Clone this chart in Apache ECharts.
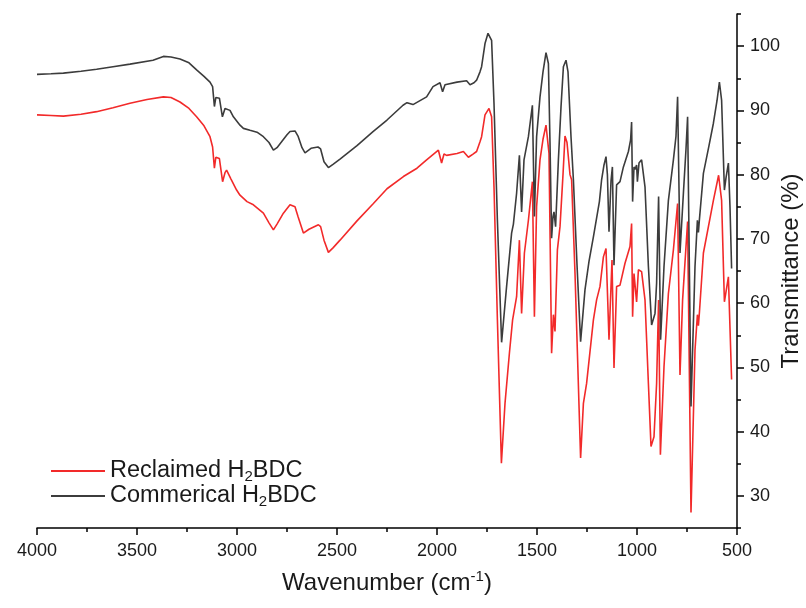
<!DOCTYPE html>
<html>
<head>
<meta charset="utf-8">
<script src="https://cdn.jsdelivr.net/npm/echarts@6/dist/echarts.min.js"></script>
<style>html,body{margin:0;padding:0;background:#fff}#c{width:806px;height:608px}</style>
</head>
<body>
<div id="c"></div>
<script>
// Commerical H2BDC (black) : wavenumber (cm-1) and transmittance (%)
const commWn = [4000,3930,3868,3780,3702,3620,3535,3420,3368,3330,3285,3240,3202,3165,3135,3122,3113,3106,3102,3088,3073,3060,3052,3035,3018,2985,2968,2935,2900,2868,2840,2818,2800,2777,2750,2735,2710,2695,2675,2660,2630,2595,2582,2565,2543,2520,2485,2400,2320,2250,2170,2150,2120,2052,2020,1985,1972,1960,1952,1900,1852,1835,1815,1802,1785,1777,1760,1745,1738,1727,1715,1698,1677,1652,1627,1618,1602,1588,1577,1565,1543,1523,1513,1502,1485,1470,1455,1443,1435,1427,1420,1415,1407,1393,1380,1368,1355,1345,1330,1318,1300,1282,1260,1240,1218,1188,1177,1165,1155,1148,1140,1130,1123,1115,1102,1085,1068,1043,1032,1027,1022,1015,1010,1002,998,990,977,960,943,927,910,902,892,882,865,843,818,805,797,785,768,755,747,730,710,698,693,688,668,640,618,600,588,577,563,555,543,535,527];
const commT  = [95.6,95.7,95.8,96.1,96.4,96.8,97.2,97.8,98.4,98.3,98.0,97.4,96.3,95.3,94.4,93.7,90.6,92.0,92.2,91.9,89.0,90.3,90.6,90.0,89.0,87.7,87.2,86.9,86.6,85.9,85.0,83.8,84.2,85.1,86.2,86.7,86.8,86.0,84.2,83.4,84.1,84.3,84.0,82.0,81.1,81.6,82.4,84.5,86.7,88.5,90.8,91.2,90.9,92.1,93.7,94.3,92.9,94.0,94.1,94.4,94.6,94.0,94.3,94.7,96.0,96.8,100.4,102.0,102.2,100.9,91.1,72.9,53.9,62.6,70.9,72.3,77.1,83.0,74.2,82.3,85.9,90.8,73.5,85.9,92.1,96.0,99.0,97.3,85.0,70.1,73.5,74.2,71.9,82.3,90.5,96.8,97.8,96.0,85.9,79.2,66.0,54.0,62.1,66.5,70.3,75.8,79.2,81.5,82.8,80.0,71.1,79.0,81.2,65.9,78.4,78.9,81.2,83.6,85.4,88.2,75.8,81.2,80.8,81.5,78.9,81.8,82.3,78.1,65.7,56.6,58.4,63.1,76.6,54.3,65.7,76.0,82.3,86.0,92.1,67.8,77.1,84.0,89.0,43.9,65.7,72.9,71.0,73.0,80.2,84.5,88.0,91.5,94.4,91.6,77.6,79.5,81.8,75.0,65.4];

// Reclaimed H2BDC (red)
const reclWn = [4000,3930,3868,3780,3702,3620,3535,3450,3368,3330,3285,3240,3202,3165,3135,3122,3113,3106,3102,3088,3072,3060,3052,3030,3002,2985,2950,2918,2868,2840,2818,2800,2768,2735,2710,2695,2668,2640,2593,2582,2565,2543,2520,2485,2400,2318,2250,2168,2100,2052,1993,1977,1965,1952,1900,1868,1843,1820,1802,1785,1777,1760,1740,1727,1715,1698,1678,1660,1638,1622,1602,1588,1577,1563,1543,1523,1513,1502,1485,1470,1455,1440,1427,1418,1410,1398,1385,1370,1360,1350,1335,1327,1310,1282,1268,1252,1218,1202,1185,1168,1155,1140,1125,1115,1102,1085,1060,1035,1027,1022,1015,1002,993,977,960,943,930,915,902,892,883,865,843,818,797,785,772,747,730,710,698,693,688,668,618,592,577,563,543,527];
const reclT  = [89.3,89.2,89.1,89.4,89.8,90.4,91.1,91.7,92.1,92.0,91.3,90.3,89.0,87.6,85.9,84.3,81.0,82.7,83.0,82.5,78.9,80.3,80.7,79.3,77.6,76.8,75.8,75.3,74.0,72.5,71.4,72.3,74.0,75.3,75.0,73.5,70.9,71.5,72.2,71.9,69.8,67.9,68.6,69.8,72.8,75.5,77.8,79.7,81.0,82.3,83.8,81.8,83.2,83.0,83.3,83.6,82.7,83.2,83.6,85.1,85.9,89.3,90.3,89.0,78.1,57.4,35.1,44.4,52.2,57.4,61.0,69.8,58.4,67.8,72.9,78.9,57.9,75.0,82.3,85.5,87.7,83.3,52.2,58.2,55.6,68.3,71.9,80.0,86.0,85.0,80.0,79.2,64.7,35.9,44.4,47.5,57.4,60.5,62.6,67.2,68.5,54.3,66.7,49.9,62.6,62.8,66.2,68.8,72.4,57.9,64.6,60.2,65.2,64.9,60.5,47.5,37.7,39.2,47.5,60.5,36.4,50.1,61.5,68.3,75.5,48.8,60.5,72.7,27.4,52.7,58.2,56.5,58.5,67.8,76.0,79.9,76.0,60.2,64.1,48.1];

const yMajorTicks = [30,40,50,60,70,80,90,100];
const seriesNames = ['Reclaimed H2BDC','Commerical H2BDC'];

const FONT = 'Liberation Sans, Arial, sans-serif';
const zip = (a,b) => a.map((v,i)=>[v,b[i]]);

const chart = echarts.init(document.getElementById('c'), null, {renderer:'canvas'});
chart.setOption({
  animation:false,
  backgroundColor:'#fff',
  grid:{left:37,right:69,top:14,bottom:80,containLabel:false,outerBoundsMode:'none'},
  legend:{
    data:seriesNames,
    orient:'vertical',
    left:46, top:454,
    itemWidth:54, itemHeight:2, itemGap:0,
    icon:'rect',
    formatter:(n)=>{
      const p = n.split('H2BDC');
      return '{n|'+p[0]+'H}{s|2}{n|BDC}';
    },
    textStyle:{
      color:'#1a1a1a', fontFamily:FONT,
      rich:{
        n:{fontSize:23.5,fontFamily:FONT,color:'#1a1a1a',lineHeight:26},
        s:{fontSize:15,fontFamily:FONT,color:'#1a1a1a',lineHeight:15,verticalAlign:'bottom'}
      }
    }
  },
  xAxis:{
    type:'value', inverse:true, min:500, max:4000, interval:500,
    name:'{n|Wavenumber (cm}{s|-1}{n|)}', nameLocation:'middle', nameGap:41, nameMoveOverlap:false,
    nameTextStyle:{
      rich:{
        n:{fontSize:24,fontFamily:FONT,color:'#1a1a1a',lineHeight:28},
        s:{fontSize:15,fontFamily:FONT,color:'#1a1a1a',lineHeight:15,verticalAlign:'top'}
      }
    },
    axisLine:{show:true,onZero:false,lineStyle:{color:'#000',width:1.5}},
    axisTick:{show:true,inside:false,length:7,lineStyle:{color:'#000',width:1.5}},
    minorTick:{show:true,splitNumber:2,length:4,lineStyle:{color:'#000',width:1.5}},
    axisLabel:{fontSize:18,fontFamily:FONT,color:'#1a1a1a',margin:14,formatter:(v)=>String(v)},
    splitLine:{show:false}, minorSplitLine:{show:false}
  },
  yAxis:[{
    type:'value', position:'right', min:25, max:105, interval:5,
    axisLine:{show:true,onZero:false,lineStyle:{color:'#000',width:1.5}},
    axisTick:{show:true,inside:false,length:4,lineStyle:{color:'#000',width:1.5}},
    axisLabel:{show:false},
    splitLine:{show:false}
  },{
    type:'value', position:'right', min:25, max:105,
    name:'Transmittance (%)', nameLocation:'middle', nameGap:42, nameRotate:90, nameMoveOverlap:false,
    nameTextStyle:{fontSize:24,fontFamily:FONT,color:'#1a1a1a'},
    axisLine:{show:false},
    axisTick:{show:true,inside:false,length:7,customValues:yMajorTicks,lineStyle:{color:'#000',width:1.5}},
    axisLabel:{show:true,customValues:yMajorTicks,fontSize:18,fontFamily:FONT,color:'#1a1a1a',margin:13},
    splitLine:{show:false}
  }],
  series:[{
    name:seriesNames[0], type:'line', yAxisIndex:0, showSymbol:false, symbol:'none',
    data:zip(reclWn,reclT), color:'#f22a2a',
    lineStyle:{width:1.6,color:'#f22a2a'}
  },{
    name:seriesNames[1], type:'line', yAxisIndex:0, showSymbol:false, symbol:'none',
    data:zip(commWn,commT), color:'#3c3c3c',
    lineStyle:{width:1.6,color:'#3c3c3c'}
  }]
});
</script>
</body>
</html>
